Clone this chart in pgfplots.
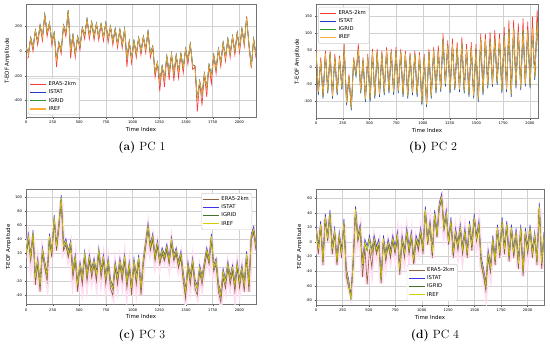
\documentclass[border=0pt]{standalone}
\usepackage{pgfplots}
\pgfplotsset{compat=1.18}
\usepackage{pgfplotstable}
\usepackage{fontspec}
\newfontfamily\dejavu{DejaVu Sans}

\definecolor{cRed}{RGB}{250,55,55}
\definecolor{cBlue}{RGB}{35,55,200}
\definecolor{cGreen}{RGB}{45,150,45}
\definecolor{cOrange}{RGB}{255,172,55}
\definecolor{cBrown}{RGB}{150,95,60}
\definecolor{cBlue2}{RGB}{60,50,230}
\definecolor{cGreen2}{RGB}{70,115,35}
\definecolor{cYellow}{RGB}{215,205,0}
\definecolor{cPink}{RGB}{255,222,242}

\pgfplotstableread{
x E S G R
0 -60 40 35 30
22 -55 -20 -22 -25
44 100 110 108 105
66 -5 30 28 25
88 160 170 168 165
110 45 80 78 75
132 200 210 208 205
154 80 115 113 110
176 285 295 293 290
198 115 150 148 145
220 220 230 228 225
242 45 80 78 75
264 140 150 148 145
286 -130 -70 -72 -75
308 60 70 68 65
330 -25 10 8 5
352 200 210 208 205
374 115 150 148 145
396 320 330 328 325
418 -60 10 8 5
440 120 130 128 125
462 -55 -20 -22 -25
484 110 120 118 115
506 5 40 38 35
528 180 190 188 185
550 95 130 128 125
572 250 260 258 255
594 95 130 128 125
616 225 235 233 230
638 85 120 118 115
660 215 225 223 220
682 85 120 118 115
704 210 220 218 215
726 80 115 113 110
748 220 230 228 225
770 65 100 98 95
792 190 200 198 195
814 45 80 78 75
836 170 180 178 175
858 25 60 58 55
880 165 175 173 170
902 20 55 53 50
924 170 180 178 175
946 -130 -50 -52 -55
968 70 80 78 75
990 -100 -60 -62 -65
1012 75 85 83 80
1034 -55 -20 -22 -25
1056 100 110 108 105
1078 -35 0 -2 -5
1100 110 120 118 115
1122 -15 20 18 15
1144 150 160 158 155
1166 -55 -20 -22 -25
1188 30 40 38 35
1210 -215 -170 -172 -175
1232 -100 -90 -92 -95
1254 -325 -250 -252 -255
1276 -130 -120 -122 -125
1298 -290 -220 -222 -225
1320 -50 -40 -42 -45
1342 -235 -170 -172 -175
1364 -30 -20 -22 -25
1386 -245 -180 -182 -185
1408 -40 -30 -32 -35
1430 -220 -160 -162 -165
1452 -30 -20 -22 -25
1474 -180 -130 -132 -135
1496 10 20 18 15
1518 -110 -70 -72 -75
1540 50 60 58 55
1562 -150 -110 -112 -115
1584 -130 -120 -122 -125
1606 -490 -390 -392 -395
1628 -250 -240 -242 -245
1650 -440 -350 -352 -355
1672 -190 -180 -182 -185
1694 -370 -290 -292 -295
1716 -120 -110 -112 -115
1738 -265 -200 -202 -205
1760 -40 -30 -32 -35
1782 -185 -140 -142 -145
1804 10 20 18 15
1826 -130 -90 -92 -95
1848 60 70 68 65
1870 -85 -50 -52 -55
1892 90 100 98 95
1914 -55 -20 -22 -25
1936 110 120 118 115
1958 -35 0 -2 -5
1980 140 150 148 145
2002 -15 20 18 15
2024 175 180 178 175
2046 35 70 68 65
2068 280 270 268 265
2090 25 60 58 55
2112 -140 -125 -127 -130
2134 90 100 98 95
2156 -60 -30 -32 -35
}\pcone

\pgfplotstableread{
x E S G R
0 60 50 51 52
22 -71 -81 -76 -73
44 30 20 21 22
66 -81 -91 -86 -83
88 50 40 41 42
110 -66 -76 -71 -68
132 50 40 41 42
154 -81 -91 -86 -83
176 40 30 31 32
198 -71 -81 -76 -73
220 35 25 26 27
242 -56 -66 -61 -58
264 70 53 54 55
286 -101 -111 -106 -103
308 -20 -27 -26 -25
330 -116 -126 -121 -118
352 30 20 21 22
374 -16 -26 -21 -18
396 70 53 54 55
418 -66 -76 -71 -68
440 30 20 21 22
462 -91 -101 -96 -93
484 40 30 31 32
506 -91 -101 -96 -93
528 55 45 46 47
550 -81 -91 -86 -83
572 55 45 46 47
594 -76 -86 -81 -78
616 50 40 41 42
638 -71 -81 -76 -73
660 60 50 51 52
682 -66 -76 -71 -68
704 55 45 46 47
726 -71 -81 -76 -73
748 60 50 51 52
770 -66 -76 -71 -68
792 55 45 46 47
814 -76 -86 -81 -78
836 50 40 41 42
858 -81 -91 -86 -83
880 45 35 36 37
902 -71 -81 -76 -73
924 50 40 41 42
946 -76 -86 -81 -78
968 45 35 36 37
990 -101 -111 -106 -103
1012 40 30 31 32
1034 -106 -116 -111 -108
1056 55 45 46 47
1078 -81 -91 -86 -83
1100 60 50 51 52
1122 -66 -76 -71 -68
1144 65 48 49 50
1166 -61 -71 -66 -63
1188 100 83 84 85
1210 -46 -56 -51 -48
1232 80 63 64 65
1254 -66 -76 -71 -68
1276 85 68 69 70
1298 -56 -66 -61 -58
1320 75 58 59 60
1342 -61 -71 -66 -63
1364 90 73 74 75
1386 -66 -76 -71 -68
1408 70 53 54 55
1430 -76 -86 -81 -78
1452 75 58 59 60
1474 -81 -91 -86 -83
1496 70 53 54 55
1518 -91 -101 -96 -93
1540 100 83 84 85
1562 -71 -81 -76 -73
1584 100 83 84 85
1606 -51 -61 -56 -53
1628 105 78 79 80
1650 -46 -56 -51 -48
1672 110 83 84 85
1694 -41 -51 -46 -43
1716 100 83 84 85
1738 -66 -76 -71 -68
1760 120 93 94 95
1782 -61 -71 -66 -63
1804 140 113 114 115
1826 -76 -86 -81 -78
1848 140 113 114 115
1870 -51 -61 -56 -53
1892 130 103 104 105
1914 -56 -66 -61 -58
1936 145 108 109 110
1958 -46 -56 -51 -48
1980 135 108 109 110
2002 -51 -61 -56 -53
2024 150 113 114 115
2046 -26 -36 -31 -28
2068 170 133 134 135
2090 4 -6 -1 2
2112 100 83 84 85
2134 -41 -51 -46 -43
2156 90 73 74 75
}\pctwo

\pgfplotstableread{
x E S G R
0 14 23 18 20
22 39 48 43 45
44 9 18 13 15
66 44 53 48 50
88 -25 -12 -17 -15
110 4 13 8 10
132 -35 -22 -27 -25
154 19 28 23 25
176 -1 8 3 5
198 -20 -7 -12 -10
220 39 48 43 45
242 14 23 18 20
264 66 75 70 72
286 24 33 28 30
308 54 63 58 60
330 94 103 98 100
352 24 33 28 30
374 32 41 36 38
396 14 23 18 20
418 29 38 33 35
440 -15 -2 -7 -5
462 9 18 13 15
484 -35 -22 -27 -25
506 -1 8 3 5
528 -25 -12 -17 -15
550 14 23 18 20
572 -20 -7 -12 -10
594 9 18 13 15
616 -15 -2 -7 -5
638 4 13 8 10
660 -20 -7 -12 -10
682 19 28 23 25
704 -15 -2 -7 -5
726 9 18 13 15
748 -25 -12 -17 -15
770 4 13 8 10
792 -30 -17 -22 -20
814 -40 -27 -32 -30
836 -1 8 3 5
858 -25 -12 -17 -15
880 4 13 8 10
902 -20 -7 -12 -10
924 9 18 13 15
946 -30 -17 -22 -20
968 -1 8 3 5
990 -40 -27 -32 -30
1012 4 13 8 10
1034 -25 -12 -17 -15
1056 9 18 13 15
1078 -40 -27 -32 -30
1100 4 13 8 10
1122 29 38 33 35
1144 54 63 58 60
1166 24 33 28 30
1188 39 48 43 45
1210 9 18 13 15
1232 29 38 33 35
1254 4 13 8 10
1276 19 28 23 25
1298 9 18 13 15
1320 24 33 28 30
1342 4 13 8 10
1364 34 43 38 40
1386 9 18 13 15
1408 19 28 23 25
1430 -1 8 3 5
1452 14 23 18 20
1474 -20 -7 -12 -10
1496 -45 -32 -37 -35
1518 -1 8 3 5
1540 -25 -12 -17 -15
1562 4 13 8 10
1584 -30 -17 -22 -20
1606 -40 -27 -32 -30
1628 -6 3 -2 0
1650 -25 -12 -17 -15
1672 -1 8 3 5
1694 19 28 23 25
1716 4 13 8 10
1738 39 48 43 45
1760 -6 3 -2 0
1782 4 13 8 10
1804 -35 -22 -27 -25
1826 -50 -37 -42 -40
1848 -15 -2 -7 -5
1870 -30 -17 -22 -20
1892 -1 8 3 5
1914 -25 -12 -17 -15
1936 -6 3 -2 0
1958 -35 -22 -27 -25
1980 -1 8 3 5
2002 -30 -17 -22 -20
2024 -6 3 -2 0
2046 -35 -22 -27 -25
2068 14 23 18 20
2090 -35 -22 -27 -25
2112 39 48 43 45
2134 49 58 53 55
2156 24 33 28 30
}\pcthree

\pgfplotstableread{
x E S G R
0 16 24 18 20
22 -17 -6 -12 -10
44 21 29 23 25
66 -32 -21 -27 -25
88 31 39 33 35
110 1 9 3 5
132 36 44 38 40
154 -17 -6 -12 -10
176 11 19 13 15
198 -32 -21 -27 -25
220 6 14 8 10
242 -22 -11 -17 -15
264 24 32 26 28
286 -47 -36 -42 -40
308 -62 -51 -57 -55
330 -72 -74 -80 -78
352 -32 -21 -27 -25
374 41 49 43 45
396 1 9 3 5
418 16 24 18 20
440 -48 -26 -32 -30
462 -8 4 -2 0
484 -58 -6 -12 -10
506 -10 9 3 5
528 -35 -11 -17 -15
550 1 9 3 5
572 -17 -6 -12 -10
594 -4 4 -2 0
616 -57 -46 -52 -50
638 1 9 3 5
660 -27 -16 -22 -20
682 -4 4 -2 0
704 -22 -11 -17 -15
726 1 9 3 5
748 -17 -6 -12 -10
770 6 14 8 10
792 -45 -34 -40 -38
814 1 9 3 5
836 -22 -11 -17 -15
858 11 19 13 15
880 -17 -6 -12 -10
902 6 14 8 10
924 -32 -21 -27 -25
946 1 9 3 5
968 -12 -1 -7 -5
990 11 19 13 15
1012 -17 -6 -12 -10
1034 41 49 43 45
1056 -4 4 -2 0
1078 21 29 23 25
1100 -22 -11 -17 -15
1122 36 44 38 40
1144 6 14 8 10
1166 46 54 48 50
1188 58 66 60 62
1210 16 24 18 20
1232 36 44 38 40
1254 -4 4 -2 0
1276 26 34 28 30
1298 -22 -11 -17 -15
1320 11 19 13 15
1342 -12 -1 -7 -5
1364 16 24 18 20
1386 -17 -6 -12 -10
1408 11 19 13 15
1430 -22 -11 -17 -15
1452 21 29 23 25
1474 -12 -1 -7 -5
1496 31 39 33 35
1518 1 9 3 5
1540 21 29 23 25
1562 -32 -21 -27 -25
1584 -47 -36 -42 -40
1606 -67 -56 -62 -60
1628 -22 -11 -17 -15
1650 -42 -31 -37 -35
1672 1 9 3 5
1694 -32 -21 -27 -25
1716 16 24 18 20
1738 -22 -11 -17 -15
1760 26 34 28 30
1782 -17 -6 -12 -10
1804 21 29 23 25
1826 -27 -16 -22 -20
1848 16 24 18 20
1870 -22 -11 -17 -15
1892 11 19 13 15
1914 -37 -26 -32 -30
1936 16 24 18 20
1958 -47 -36 -42 -40
1980 11 19 13 15
2002 -17 -6 -12 -10
2024 16 24 18 20
2046 -22 -11 -17 -15
2068 6 14 8 10
2090 -32 -21 -27 -25
2112 46 54 48 50
2134 -37 -26 -32 -30
2156 6 14 8 10
}\pcfour

\pgfplotsset{
  tsbase/.style={
    scale only axis,
    xmin=0, xmax=2156,
    xtick={0,250,...,2000},
    tick pos=left,
    grid=major,
    grid style={black!18, line width=0.4pt},
    axis line style={black!55, line width=0.5pt},
    tick align=outside,
    major tick length=1.5pt,
    tick style={black!70, line width=0.3pt},
    ticklabel style={font=\dejavu\fontsize{3.6}{4}\selectfont},
    /pgf/number format/assume math mode=true,
    /pgf/number format/1000 sep={},
    xlabel={Time Index},
    ylabel={T-EOF Amplitude},
    label style={font=\dejavu\fontsize{5.5}{6.5}\selectfont},
    xlabel style={yshift=3.5pt},
    ylabel style={yshift=-3pt},
    x tick label style={yshift=1pt},
    y tick label style={xshift=1pt},
    legend cell align=left,
    legend style={font=\dejavu\fontsize{5.3}{6}\selectfont, draw=black!20,
      rounded corners=1.5pt, fill=white,
      inner sep=1.2pt, row sep=-1.2pt},
    legend image code/.code={\draw[#1, line width=1.1pt] (0pt,0pt) -- (16pt,0pt);},
    every axis plot/.append style={line width=0.6pt},
  },
}

\begin{document}
\begin{tikzpicture}
\path[use as bounding box] (0,0) rectangle (550bp,346bp);

% (a)
\begin{axis}[tsbase, at={(26bp,228.7bp)}, anchor=south west,
  width=230bp, height=113bp, ymin=-535, ymax=377,
  ytick={-400,-200,0,200},
  legend style={at={(0.01,0.02)}, anchor=south west}]
\addplot[cRed] table[x=x, y=E] {\pcone};
\addplot[cBlue] table[x=x, y=S] {\pcone};
\addplot[cGreen] table[x=x, y=G] {\pcone};
\addplot[cOrange] table[x=x, y=R] {\pcone};
\legend{ERA5-2km, ISTAT, IGRID, IREF}
\end{axis}

% (b)
\begin{axis}[tsbase, at={(316bp,227.7bp)}, anchor=south west,
  width=222bp, height=113.6bp, xmax=2076, ymin=-149, ymax=185,
  ytick={-100,-50,0,50,100,150},
  legend style={at={(0.01,0.98)}, anchor=north west}]
\addplot[cRed] table[x=x, y=E] {\pctwo};
\addplot[cBlue] table[x=x, y=S] {\pctwo};
\addplot[cGreen] table[x=x, y=G] {\pctwo};
\addplot[cOrange] table[x=x, y=R] {\pctwo};
\legend{ERA5-2km, ISTAT, IGRID, IREF}
\end{axis}

% (c)
\begin{axis}[tsbase, at={(26bp,41.3bp)}, anchor=south west,
  width=230bp, height=115bp, ymin=-53.4, ymax=110.9,
  ytick={-40,-20,0,20,40,60,80,100},
  legend style={at={(0.983,0.97)}, anchor=north east}]
\addplot[cPink, line width=4pt, forget plot] table[x=x, y=E] {\pcthree};
\addplot[cBrown] table[x=x, y=E] {\pcthree};
\addplot[cBlue2] table[x=x, y=S] {\pcthree};
\addplot[cGreen2] table[x=x, y=G] {\pcthree};
\addplot[cYellow] table[x=x, y=R] {\pcthree};
\legend{ERA5-2km, ISTAT, IGRID, IREF}
\end{axis}

% (d)
\begin{axis}[tsbase, at={(316bp,40.7bp)}, anchor=south west,
  width=228bp, height=116.3bp, ymin=-86.9, ymax=72.8,
  ytick={-80,-60,-40,-20,0,20,40,60},
  legend style={at={(0.51,0.037)}, anchor=south}]
\addplot[cPink, line width=4pt, forget plot] table[x=x, y=E] {\pcfour};
\addplot[cBrown] table[x=x, y=E] {\pcfour};
\addplot[cBlue2] table[x=x, y=S] {\pcfour};
\addplot[cGreen2] table[x=x, y=G] {\pcfour};
\addplot[cYellow] table[x=x, y=R] {\pcfour};
\legend{ERA5-2km, ISTAT, IGRID, IREF}
\end{axis}

\node[font=\fontsize{12}{14}\selectfont] at (142bp,198bp) {\textbf{(a)} PC~1};
\node[font=\fontsize{12}{14}\selectfont] at (433bp,198bp) {\textbf{(b)} PC~2};
\node[font=\fontsize{12}{14}\selectfont] at (142bp,10bp) {\textbf{(c)} PC~3};
\node[font=\fontsize{12}{14}\selectfont] at (435bp,10bp) {\textbf{(d)} PC~4};
\end{tikzpicture}
\end{document}
